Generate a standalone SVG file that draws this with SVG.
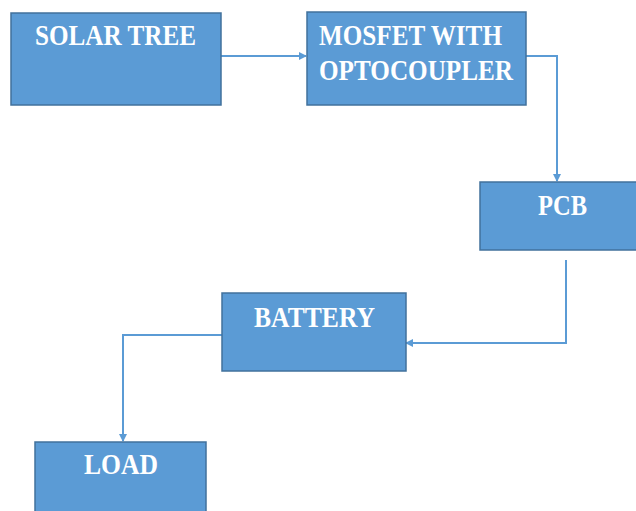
<svg xmlns="http://www.w3.org/2000/svg" width="636" height="511" viewBox="0 0 636 511">
<defs>
<style>
.box{fill:#5B9BD5;stroke:#41719C;stroke-width:1.5}
.lbl{font-family:"Liberation Serif","Times New Roman",serif;font-weight:bold;font-size:29px;fill:#FFFFFF}
.con{fill:none;stroke:#5B9BD5;stroke-width:2}
</style>
<marker id="ah" markerWidth="8" markerHeight="8" refX="7" refY="4" orient="auto" markerUnits="userSpaceOnUse">
<path d="M0,0 L8,4 L0,8 Z" fill="#5B9BD5"/>
</marker>
</defs>
<rect width="636" height="511" fill="#FFFFFF"/>
<g id="connectors">
<path class="con" d="M221,56 L306,56" marker-end="url(#ah)"/>
<path class="con" d="M526,56 L557,56 L557,181" marker-end="url(#ah)"/>
<path class="con" d="M566,260 L566,343 L406,343" marker-end="url(#ah)"/>
<path class="con" d="M222,335 L123,335 L123,441" marker-end="url(#ah)"/>
</g>
<g id="solar-tree">
<rect class="box" x="11" y="13" width="210" height="92"/>
<text class="lbl" x="35" y="45" textLength="161" lengthAdjust="spacingAndGlyphs">SOLAR TREE</text>
</g>
<g id="mosfet">
<rect class="box" x="307" y="12" width="219" height="93"/>
<text class="lbl" x="319" y="45" textLength="183" lengthAdjust="spacingAndGlyphs">MOSFET WITH</text>
<text class="lbl" x="319" y="80" textLength="194" lengthAdjust="spacingAndGlyphs">OPTOCOUPLER</text>
</g>
<g id="pcb">
<rect class="box" x="480" y="182" width="160" height="68"/>
<text class="lbl" x="538" y="215" textLength="49" lengthAdjust="spacingAndGlyphs">PCB</text>
</g>
<g id="battery">
<rect class="box" x="222" y="293" width="184" height="78"/>
<text class="lbl" x="254" y="327" textLength="121" lengthAdjust="spacingAndGlyphs">BATTERY</text>
</g>
<g id="load">
<rect class="box" x="35" y="442" width="171" height="75"/>
<text class="lbl" x="84" y="474" textLength="74" lengthAdjust="spacingAndGlyphs">LOAD</text>
</g>
</svg>
